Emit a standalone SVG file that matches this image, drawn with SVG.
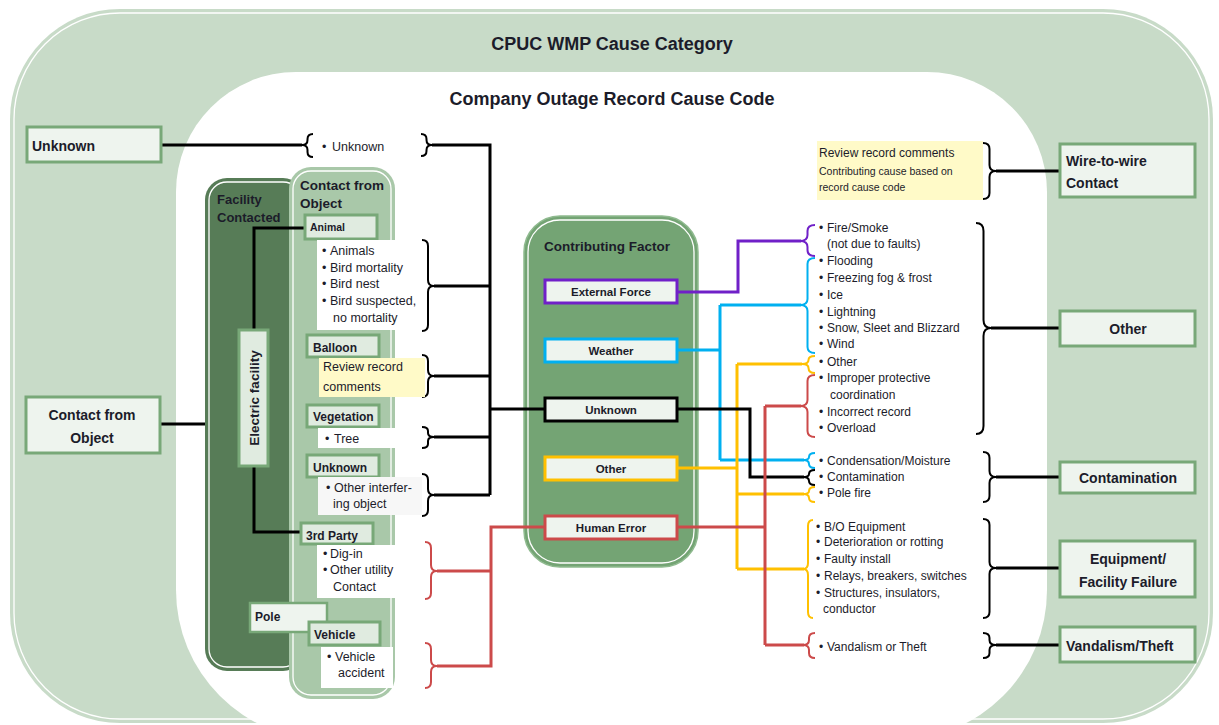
<svg xmlns="http://www.w3.org/2000/svg" width="1219" height="725" viewBox="0 0 1219 725">
<style>
text{font-family:"Liberation Sans",Arial,sans-serif;fill:#1c1c2a}
.t{font-size:18px;font-weight:bold}
.cat{font-size:14px;font-weight:bold}
.sub{font-size:12px;font-weight:bold}
.li{font-size:12.5px}
.ri{font-size:12px}
.cf{font-size:11.5px;font-weight:bold}
.pan{font-size:13.5px;font-weight:bold}
.box{fill:#eef4ee;stroke:#78a878;stroke-width:3}
.sbox{fill:#e0ebe0;stroke:#78a878;stroke-width:3}
.inl{fill:none;stroke:#ffffff;stroke-width:1.3}
.br{fill:none;stroke-width:2;stroke-linejoin:round}
.ln{fill:none;stroke-width:3}
.k{stroke:#000}
.pu{stroke:#7020c8}
.bl{stroke:#00b0f0}
.ye{stroke:#ffc000}
.re{stroke:#cc4a4a}
</style>
<g id="background">
<rect x="10" y="9" width="1203" height="714" rx="110" fill="#c8dbc8"/>
<rect x="14" y="13" width="1195" height="706" rx="106" class="inl"/>
<path d="M296,72 L927,72 A120,120 0 0 1 1047,192 L1047,590 A150,150 0 0 1 897,740 L326,740 A150,150 0 0 1 176,590 L176,192 A120,120 0 0 1 296,72 Z" fill="#ffffff"/>
<text x="612" y="50" text-anchor="middle" class="t">CPUC WMP Cause Category</text>
<text x="612" y="105" text-anchor="middle" class="t">Company Outage Record Cause Code</text>
</g>
<g id="facility-contacted">
<rect x="205" y="178" width="100" height="493" rx="22" fill="#577c57"/>
<rect x="209" y="182" width="92" height="485" rx="18" class="inl"/>
<text x="217" y="204" class="pan" style="font-size:13px">Facility</text>
<text x="217" y="222" class="pan" style="font-size:13px">Contacted</text>
</g>
<g id="contact-from-object-panel">
<rect x="289" y="167" width="106" height="532" rx="22" fill="#a9c8a9"/>
<rect x="293" y="171" width="98" height="524" rx="18" class="inl"/>
<text x="300" y="190" class="pan">Contact from</text>
<text x="300" y="208" class="pan">Object</text>
</g>
<g id="contributing-factor">
<rect x="524" y="216" width="174" height="351" rx="36" fill="#74a474" stroke="#8fba8f" stroke-width="1.5"/>
<rect x="528" y="220" width="166" height="343" rx="32" class="inl"/>
<text x="544" y="251" class="pan">Contributing Factor</text>
</g>
<g id="connectors">
<path class="ln k" d="M161,145 H302"/>
<path class="ln k" d="M432,145 H490 V495 M434,286 H490 M434,376 H490 M434,437 H490 M434,495 H490 M490,409 H545"/>
<path class="ln re" d="M437,571 H491 M437,666 H491 V527 H545"/>
<path class="ln k" d="M305,228 H254 V330 M254,466 V532 H302"/>
<path class="ln k" d="M160,424 H205"/>
<path class="ln pu" d="M678,292 H738 V241 H801"/>
<path class="ln bl" d="M678,350 H720 M720,305 V460 M720,305 H801 M720,460 H804"/>
<path class="ln ye" d="M678,468 H737 M737,364 V569 M737,364 H802 M737,494 H804 M737,569 H804"/>
<path class="ln k" d="M678,409 H750 V477 H804"/>
<path class="ln re" d="M678,527 H765 M765,406 V645 M765,406 H801 M765,645 H804"/>
<path class="ln k" d="M996,171 H1060 M991,328 H1060 M996,477 H1060 M996,568 H1060 M996,645 H1060"/>
</g>
<g id="braces">
<path class="br k" d="M313,134 Q307.5,134 307.5,139 L307.5,140 Q307.5,145 302,145 Q307.5,145 307.5,150 L307.5,152 Q307.5,157 313,157"/>
<path class="br k" d="M421,134 Q426.5,134 426.5,139 L426.5,140 Q426.5,145 432,145 Q426.5,145 426.5,150 L426.5,151 Q426.5,156 421,156"/>
<path class="br k" d="M422,240 Q428,240 428,246 L428,280 Q428,286 434,286 Q428,286 428,292 L428,325 Q428,331 422,331"/>
<path class="br k" d="M422,355 Q428,355 428,361 L428,370 Q428,376 434,376 Q428,376 428,382 L428,391 Q428,397 422,397"/>
<path class="br k" d="M422,427 Q428,427 428,431 L428,433 Q428,437 434,437 Q428,437 428,441 L428,444 Q428,448 422,448"/>
<path class="br k" d="M422,474 Q428,474 428,480 L428,489 Q428,495 434,495 Q428,495 428,501 L428,510 Q428,516 422,516"/>
<path class="br re" d="M425,542 Q431,542 431,548 L431,565 Q431,571 437,571 Q431,571 431,577 L431,593 Q431,599 425,599"/>
<path class="br re" d="M425,643 Q431,643 431,649 L431,660 Q431,666 437,666 Q431,666 431,672 L431,682 Q431,688 425,688"/>
<path class="br pu" d="M815,225 Q807.5,225 807.5,231 L807.5,235 Q807.5,241 800,241 Q807.5,241 807.5,247 L807.5,250 Q807.5,256 815,256"/>
<path class="br bl" d="M815,258 Q807.5,258 807.5,264 L807.5,299 Q807.5,305 800,305 Q807.5,305 807.5,311 L807.5,347 Q807.5,353 815,353"/>
<path class="br ye" d="M815,356 Q808.5,356 808.5,360 Q808.5,364 802,364 Q808.5,364 808.5,368 Q808.5,373 815,373"/>
<path class="br re" d="M815,375 Q807.5,375 807.5,381 L807.5,400 Q807.5,406 800,406 Q807.5,406 807.5,412 L807.5,431 Q807.5,437 815,437"/>
<path class="br bl" d="M815,453 Q809,453 809,457 Q809,460 803,460 Q809,460 809,464 Q809,468 815,468"/>
<path class="br k" d="M815,470 Q809,470 809,474 Q809,477 803,477 Q809,477 809,481 Q809,485 815,485"/>
<path class="br ye" d="M815,487 Q809,487 809,491 Q809,494 803,494 Q809,494 809,498 Q809,502 815,502"/>
<path class="br ye" d="M813,520 Q808,520 808,526 L808,563 Q808,569 803,569 Q808,569 808,575 L808,612 Q808,618 813,618"/>
<path class="br re" d="M815,633 Q809,633 809,638 L809,640 Q809,645 803,645 Q809,645 809,650 L809,653 Q809,658 815,658"/>
<path class="br k" d="M983,143 Q989.5,143 989.5,149 L989.5,165 Q989.5,171 996,171 Q989.5,171 989.5,177 L989.5,193 Q989.5,199 983,199"/>
<path class="br k" d="M976,223 Q983.5,223 983.5,231 L983.5,320 Q983.5,328 991,328 Q983.5,328 983.5,336 L983.5,426 Q983.5,434 976,434"/>
<path class="br k" d="M983,452 Q989.5,452 989.5,458 L989.5,471 Q989.5,477 996,477 Q989.5,477 989.5,483 L989.5,496 Q989.5,502 983,502"/>
<path class="br k" d="M983,519 Q989.5,519 989.5,525 L989.5,562 Q989.5,568 996,568 Q989.5,568 989.5,574 L989.5,612 Q989.5,618 983,618"/>
<path class="br k" d="M983,633 Q989.5,633 989.5,638 L989.5,640 Q989.5,645 996,645 Q989.5,645 989.5,650 L989.5,653 Q989.5,658 983,658"/>
</g>
<g id="cat-unknown"><rect x="27" y="127" width="134" height="35" class="box"/><text x="32" y="151" class="cat">Unknown</text></g>
<g id="cat-contact-from-object"><rect x="26" y="397" width="134" height="56" class="box"/><text x="92" y="420" text-anchor="middle" class="cat">Contact from</text><text x="92" y="443" text-anchor="middle" class="cat">Object</text></g>
<g id="cat-wire"><rect x="1060" y="144" width="135" height="53" class="box"/><text x="1066" y="166" class="cat">Wire-to-wire</text><text x="1066" y="188" class="cat">Contact</text></g>
<g id="cat-other"><rect x="1060" y="311" width="135" height="35" class="box"/><text x="1128" y="334" text-anchor="middle" class="cat">Other</text></g>
<g id="cat-contamination"><rect x="1060" y="462" width="135" height="31" class="box"/><text x="1128" y="483" text-anchor="middle" class="cat">Contamination</text></g>
<g id="cat-equipment"><rect x="1060" y="541" width="135" height="56" class="box"/><text x="1128" y="564" text-anchor="middle" class="cat">Equipment/</text><text x="1128" y="587" text-anchor="middle" class="cat">Facility Failure</text></g>
<g id="cat-vandalism"><rect x="1060" y="627" width="135" height="35" class="box"/><text x="1066" y="651" class="cat">Vandalism/Theft</text></g>
<g id="electric-facility"><rect x="239" y="330" width="29" height="136" class="sbox"/><text transform="translate(259,398) rotate(-90)" text-anchor="middle" class="pan">Electric facility</text></g>
<g id="code-unknown"><text x="322" y="151" class="li"><tspan>•</tspan><tspan x="332">Unknown</tspan></text></g>
<g id="animal">
<rect x="305" y="215" width="72" height="24" class="sbox"/><text x="310" y="231" class="sub" style="font-size:10.5px">Animal</text>
<rect x="317" y="240" width="105" height="90" fill="#ffffff"/>
<text class="li"><tspan x="322" y="255">•</tspan><tspan x="330" y="255">Animals</tspan><tspan x="322" y="272">•</tspan><tspan x="330" y="272">Bird mortality</tspan><tspan x="322" y="288">•</tspan><tspan x="330" y="288">Bird nest</tspan><tspan x="322" y="305">•</tspan><tspan x="330" y="305">Bird suspected,</tspan><tspan x="333" y="322">no mortality</tspan></text>
</g>
<g id="balloon">
<rect x="307" y="335" width="72" height="22" class="sbox"/><text x="313" y="352" class="sub">Balloon</text>
<rect x="319" y="358" width="106" height="39" fill="#fffac8"/>
<text class="li"><tspan x="323" y="371">Review record</tspan><tspan x="323" y="391">comments</tspan></text>
</g>
<g id="vegetation">
<rect x="307" y="405" width="72" height="22" class="sbox"/><text x="313" y="421" class="sub">Vegetation</text>
<rect x="318" y="428" width="104" height="20" fill="#ffffff"/>
<text class="li"><tspan x="325" y="443">•</tspan><tspan x="334" y="443">Tree</tspan></text>
</g>
<g id="obj-unknown">
<rect x="307" y="455" width="72" height="22" class="sbox"/><text x="313" y="472" class="sub">Unknown</text>
<rect x="318" y="477" width="104" height="38" fill="#f7f7f7"/>
<text class="li"><tspan x="326" y="492">•</tspan><tspan x="334" y="492">Other interfer-</tspan><tspan x="333" y="508">ing object</tspan></text>
</g>
<g id="third-party">
<rect x="301" y="523" width="72" height="21" class="sbox"/><text x="306" y="540" class="sub">3rd Party</text>
<rect x="317" y="545" width="105" height="53" fill="#ffffff"/>
<text class="li"><tspan x="323" y="558">•</tspan><tspan x="330" y="558">Dig-in</tspan><tspan x="323" y="574">•</tspan><tspan x="330" y="574">Other utility</tspan><tspan x="333" y="591">Contact</tspan></text>
</g>
<g id="pole"><rect x="250" y="603" width="77" height="29" fill="#eef4ee" stroke="#78a878" stroke-width="2.5"/><text x="255" y="621" class="sub">Pole</text></g>
<g id="vehicle">
<rect x="309" y="622" width="71" height="23" class="sbox"/><text x="314" y="639" class="sub">Vehicle</text>
<rect x="321" y="647" width="72" height="41" fill="#ffffff"/>
<text class="li"><tspan x="327" y="661">•</tspan><tspan x="335" y="661">Vehicle</tspan><tspan x="338" y="677">accident</tspan></text>
</g>
<g id="cf-external"><rect x="545" y="280" width="132" height="23" fill="#eef4ee" stroke="#7020c8" stroke-width="3"/><text x="611" y="296" text-anchor="middle" class="cf">External Force</text></g>
<g id="cf-weather"><rect x="545" y="339" width="132" height="23" fill="#eef4ee" stroke="#00b0f0" stroke-width="3"/><text x="611" y="355" text-anchor="middle" class="cf">Weather</text></g>
<g id="cf-unknown"><rect x="545" y="398" width="132" height="23" fill="#eef4ee" stroke="#000" stroke-width="3"/><text x="611" y="414" text-anchor="middle" class="cf">Unknown</text></g>
<g id="cf-other"><rect x="545" y="457" width="132" height="23" fill="#eef4ee" stroke="#ffc000" stroke-width="3"/><text x="611" y="473" text-anchor="middle" class="cf">Other</text></g>
<g id="cf-human"><rect x="545" y="516" width="132" height="23" fill="#eef4ee" stroke="#cc4a4a" stroke-width="3"/><text x="611" y="532" text-anchor="middle" class="cf">Human Error</text></g>
<g id="review-note">
<rect x="817" y="141" width="166" height="59" fill="#fffac8"/>
<text x="819" y="157" class="ri">Review record comments</text>
<text x="819" y="175" class="ri" style="font-size:10.5px">Contributing cause based on</text>
<text x="819" y="191" class="ri" style="font-size:10.5px">record cause code</text>
</g>
<g id="other-codes">
<text class="ri"><tspan x="819" y="232">•</tspan><tspan x="827" y="232">Fire/Smoke</tspan><tspan x="827" y="248">(not due to faults)</tspan><tspan x="819" y="265">•</tspan><tspan x="827" y="265">Flooding</tspan><tspan x="819" y="282">•</tspan><tspan x="827" y="282">Freezing fog &amp; frost</tspan><tspan x="819" y="299">•</tspan><tspan x="827" y="299">Ice</tspan><tspan x="819" y="316">•</tspan><tspan x="827" y="316">Lightning</tspan><tspan x="819" y="332">•</tspan><tspan x="827" y="332">Snow, Sleet and Blizzard</tspan><tspan x="819" y="348">•</tspan><tspan x="827" y="348">Wind</tspan><tspan x="819" y="366">•</tspan><tspan x="827" y="366">Other</tspan><tspan x="819" y="382">•</tspan><tspan x="827" y="382">Improper protective</tspan><tspan x="830" y="399">coordination</tspan><tspan x="819" y="416">•</tspan><tspan x="827" y="416">Incorrect record</tspan><tspan x="819" y="432">•</tspan><tspan x="827" y="432">Overload</tspan></text>
</g>
<g id="contamination-codes">
<text class="ri"><tspan x="819" y="465">•</tspan><tspan x="827" y="465">Condensation/Moisture</tspan><tspan x="819" y="481">•</tspan><tspan x="827" y="481">Contamination</tspan><tspan x="819" y="497">•</tspan><tspan x="827" y="497">Pole fire</tspan></text>
</g>
<g id="equipment-codes">
<text class="ri"><tspan x="816" y="531">•</tspan><tspan x="824" y="531">B/O Equipment</tspan><tspan x="816" y="546">•</tspan><tspan x="824" y="546">Deterioration or rotting</tspan><tspan x="816" y="563">•</tspan><tspan x="824" y="563">Faulty install</tspan><tspan x="816" y="580">•</tspan><tspan x="824" y="580">Relays, breakers, switches</tspan><tspan x="816" y="597">•</tspan><tspan x="824" y="597">Structures, insulators,</tspan><tspan x="823" y="613">conductor</tspan></text>
</g>
<g id="vandalism-codes">
<text class="ri"><tspan x="819" y="651">•</tspan><tspan x="827" y="651">Vandalism or Theft</tspan></text>
</g>
</svg>
